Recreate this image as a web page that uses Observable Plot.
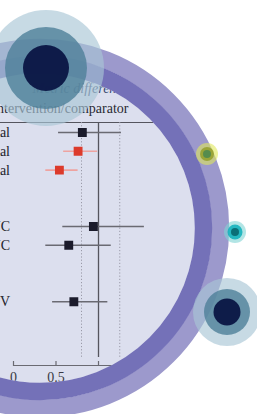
<!DOCTYPE html>
<html><head><meta charset="utf-8">
<script src="https://cdn.jsdelivr.net/npm/d3@7"></script>
<script src="https://cdn.jsdelivr.net/npm/@observablehq/plot@0.6"></script>
<style>
html,body{margin:0;padding:0;background:#fff;}
#wrap{position:relative;width:257px;height:414px;overflow:hidden;background:#fff;}
#wrap svg{position:absolute;left:0;top:0;}
</style></head><body><div id="wrap"></div>
<script>
// ---- data ----
const rowLabels = ["Total", "Renal", "Nonrenal", "AUC", "AUC", "V"];
const rowIndex  = [0, 1, 2, 5, 6, 9];
const series    = ["overall", "subgroup", "subgroup", "overall", "overall", "overall"];
const estimate  = [0.81, 0.76, 0.54, 0.94, 0.65, 0.71];
const lower     = [0.53, 0.59, 0.38, 0.58, 0.38, 0.46];
const upper     = [1.27, 0.99, 0.76, 1.54, 1.15, 1.11];
const xTicks    = [0, 0.5, 1, 1.5];
const noEffect  = [1];
const margins   = [0.8, 1.25];
const headerTop = "Metric difference";
const headerSub = "intervention/comparator";

const rows = rowLabels.map((label, i) => ({
  label, row: rowIndex[i], series: series[i], est: estimate[i], lo: lower[i], hi: upper[i]
}));
const lineColor = d => d.series === "subgroup" ? "#eea3a0" : "#6a6a72";
const boxColor  = d => d.series === "subgroup" ? "#dc3a2b" : "#1b1b2b";

const CX = 40, CY = 228, R_IN = 155;
const wrap = document.getElementById("wrap");

// background disk
const bg = d3.select(wrap).append("svg").attr("width", 257).attr("height", 414);
bg.append("circle").attr("cx", CX).attr("cy", CY).attr("r", R_IN).attr("fill", "#dcdfee");

const chart = Plot.plot({
  width: 257,
  height: 414,
  marginTop: 122,
  marginBottom: 49,
  marginLeft: 0,
  marginRight: 100,
  x: {domain: [0, 1], range: [13, 98], label: null},
  y: {domain: [0, 9], range: [132, 301.2], axis: null},
  style: {background: "transparent", fontFamily: "'Liberation Serif', serif", fontSize: "14px", color: "#2a2a33"},
  marks: [
    Plot.frame({anchor: "top", stroke: "#55555e", strokeWidth: 1.2}),
    Plot.frame({anchor: "bottom", insetLeft: 13, stroke: "#6a6a72", strokeWidth: 1.2}),
    Plot.ruleX(margins, {stroke: "#9a9aa8", strokeWidth: 1, strokeDasharray: "1.2,2", insetBottom: 8}),
    Plot.ruleX(noEffect, {stroke: "#55555e", strokeWidth: 1.3, insetBottom: 8}),
    Plot.tickX(xTicks, {x: d => d, stroke: "#6a6a72", strokeWidth: 1.2, insetTop: 239}),
    Plot.axisX(xTicks, {tickSize: 0, tickPadding: 7, tickFormat: d => String(d), fontSize: 14, fill: "#3a3a44", label: null}),
    Plot.ruleY(rows, {y: "row", x1: "lo", x2: "hi", stroke: lineColor, strokeWidth: 1.6}),
    Plot.dot(rows, {x: "est", y: "row", symbol: "square", r: 5, fill: boxColor, stroke: null}),
    Plot.text(rows, {y: "row", text: "label", frameAnchor: "left", textAnchor: "end", lineAnchor: "middle", dx: 9.5, fill: "#22222a", fontSize: 14}),
    Plot.text([headerSub], {text: d => d, frameAnchor: "top-left", textAnchor: "end", lineAnchor: "middle", dx: 128, dy: -14, fill: "#2a2a33", fontSize: 14}),
    Plot.text([headerTop], {text: d => d, frameAnchor: "top-left", textAnchor: "start", lineAnchor: "middle", dx: 32, dy: -34, fill: "#3a4a70", fontSize: 14, fontStyle: "italic"})
  ]
});
chart.style.clipPath = `circle(${R_IN}px at ${CX}px ${CY}px)`;
wrap.appendChild(chart);

// decorative overlay: ring and bubbles
const ov = d3.select(wrap).append("svg").attr("width", 257).attr("height", 414);
ov.append("circle").attr("cx", CX).attr("cy", CY).attr("r", 180.5)
  .attr("fill", "none").attr("stroke", "#9c99cc").attr("stroke-width", 17.4);
ov.append("circle").attr("cx", CX).attr("cy", CY).attr("r", 163.5)
  .attr("fill", "none").attr("stroke", "#7471b8").attr("stroke-width", 17.4);

function bubble(cx, cy, layers) {
  const g = ov.append("g");
  layers.forEach(([r, fill, op]) => {
    g.append("circle").attr("cx", cx).attr("cy", cy).attr("r", r).attr("fill", fill).attr("fill-opacity", op);
  });
}
bubble(46, 68, [[58, "#a9c6d5", 0.65], [41, "#4e8098", 0.8], [23, "#0b1846", 0.97]]);
bubble(227, 312, [[34, "#a9c6d5", 0.65], [23, "#4e8098", 0.8], [13.5, "#0b1846", 0.97]]);
bubble(207, 154, [[11, "#dfe85a", 0.6], [7, "#8d9a1e", 0.75], [4, "#4f8a50", 0.9]]);
bubble(235, 232, [[11, "#7fd3d3", 0.6], [7.5, "#15b3bd", 0.9], [4, "#0a6a73", 0.95]]);
</script></body></html>
